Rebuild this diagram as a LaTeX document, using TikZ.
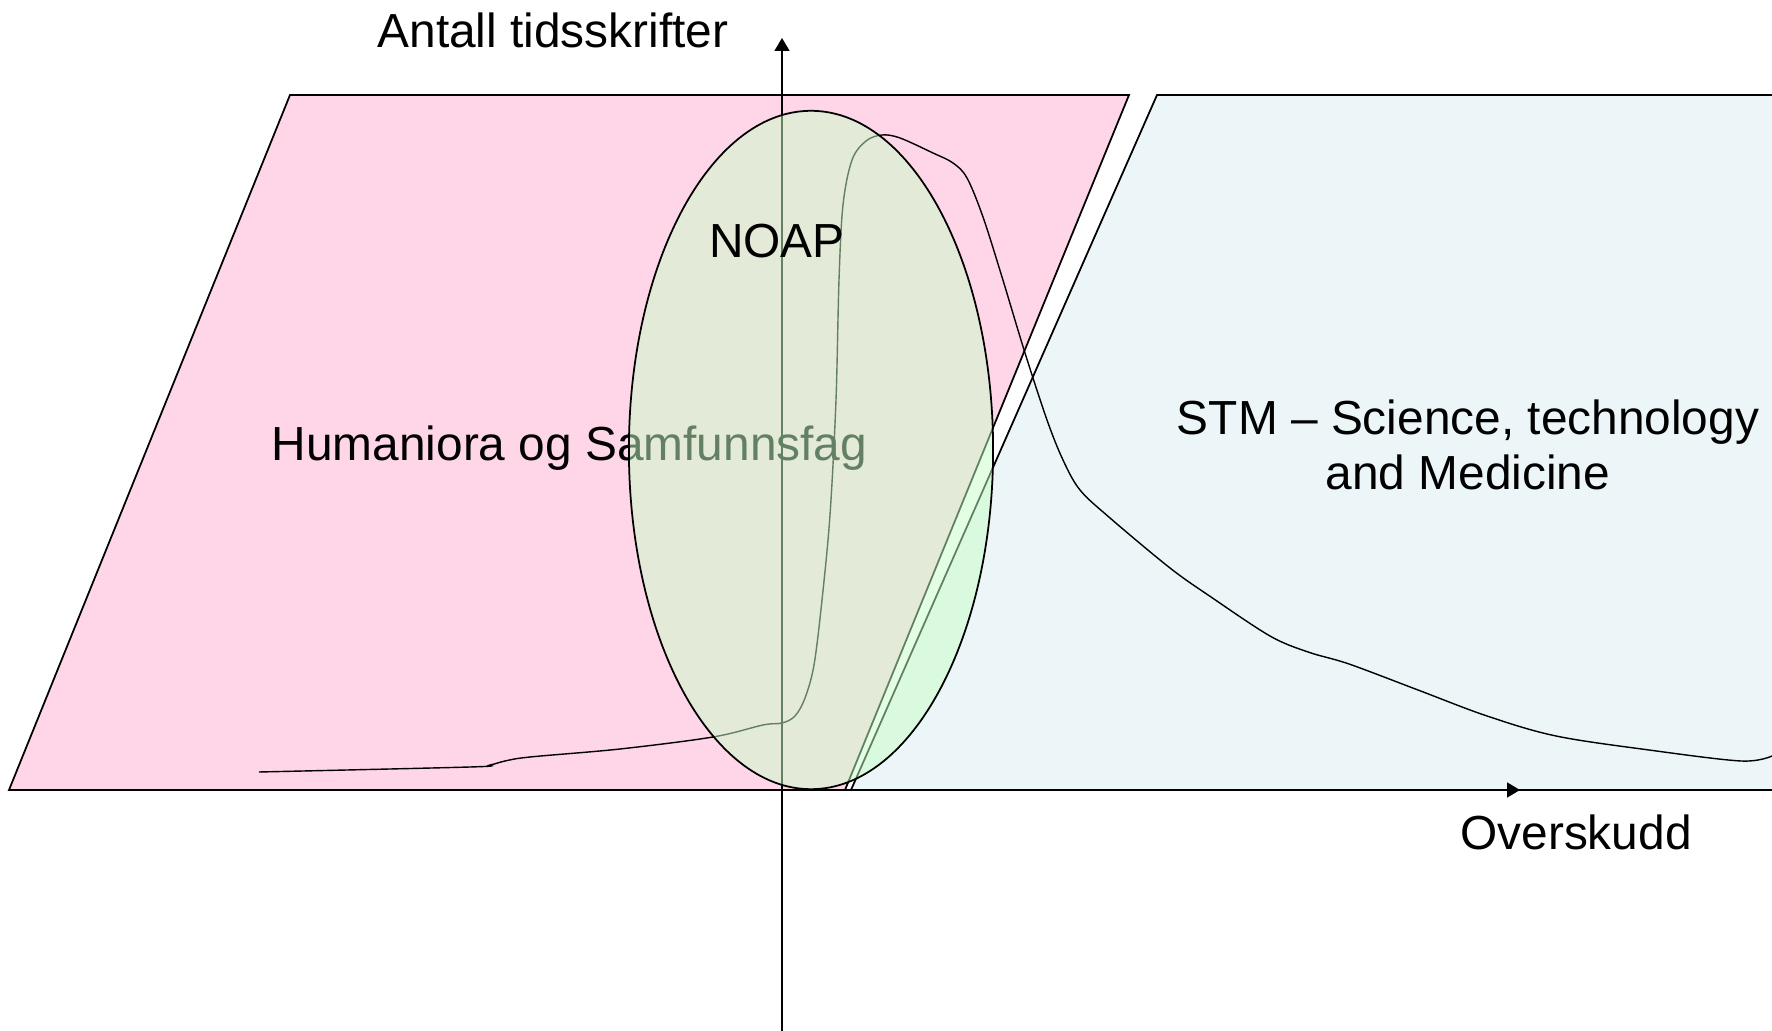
\documentclass[tikz,border=0pt]{standalone}
\usepackage{fontspec}
\setmainfont{Liberation Sans}
\usetikzlibrary{arrows.meta,shapes.geometric}
\definecolor{humpink}{RGB}{255,213,232}
\definecolor{stmblue}{RGB}{236,245,247}
\definecolor{noapgreen}{RGB}{200,255,200}

\begin{document}
\begin{tikzpicture}[x=0.01cm, y=-0.01cm,
  area/.style={draw=black, line width=0.5pt},
  axis/.style={line width=0.5pt, -{Triangle[length=0.13cm,width=0.15cm]}},
  lbl/.style={font=\fontsize{13.6}{15.6}\selectfont, inner sep=0pt}]
\clip (0,0) rectangle (1772,1031);

%%%%%%%%%%%%%%%%%%%% Fields %%%%%%%%%%%%%%%%%%%%
\draw[area, fill=humpink] (9,790) -- (290,95) -- (1129,95) -- (845,790) -- cycle;
\draw[area, fill=stmblue] (851,790) -- (1157,95) -- (1800,95) -- (1800,790) -- cycle;

\node[lbl, anchor=base west] (hs) at (271,461) {Humaniora og Samfunnsfag};
\node[lbl, align=center] (stm) at (1468,445) {STM – Science, technology\\and Medicine};

%%%%%%%%%%%%%%%%%%%% Axes %%%%%%%%%%%%%%%%%%%%
\coordinate (ybot) at (782,1031);
\coordinate (ytop) at (782,38);
\coordinate (xleft) at (9,790);
\coordinate (xright) at (1520,790);
\draw[axis] (ybot) -- (ytop);
\draw[axis] (xleft) -- (xright);
\node[lbl, anchor=base] (ylab) at (553,48) {Antall tidsskrifter};
\node[lbl, anchor=base] (xlab) at (1576,850) {Overskudd};

%%%%%%%%%%%%%%%%%%%% Curve %%%%%%%%%%%%%%%%%%%%
\draw[line width=0.4pt] plot[smooth, tension=0.55] coordinates {
  (259,772) (470,767) (490,765) (505,761) (530,757) (620,749) (713,737)
  (763,725) (782,723) (795,716) (805,698) (814,665) (822,600) (830,515)
  (836,400) (839,280) (843,205) (852,160) (866,141) (882,135) (900,138)
  (933,153) (953,163) (967,178) (983,217) (1002,277) (1025,353) (1047,420)
  (1063,460) (1080,490) (1110,518) (1170,568) (1211,597)
  (1270,636) (1308,652) (1349,664) (1418,690) (1487,716) (1556,736)
  (1649,750) (1741,761) (1772,756)};

%%%%%%%%%%%%%%%%%%%% NOAP %%%%%%%%%%%%%%%%%%%%
\node[ellipse, draw, line width=0.5pt, fill=noapgreen, fill opacity=0.5,
  minimum width=3.64cm, minimum height=6.78cm, inner sep=0pt] (noap) at (811,450) {};
\node[lbl, anchor=base] (noaplab) at (777,258) {NOAP};

\end{tikzpicture}
\end{document}
